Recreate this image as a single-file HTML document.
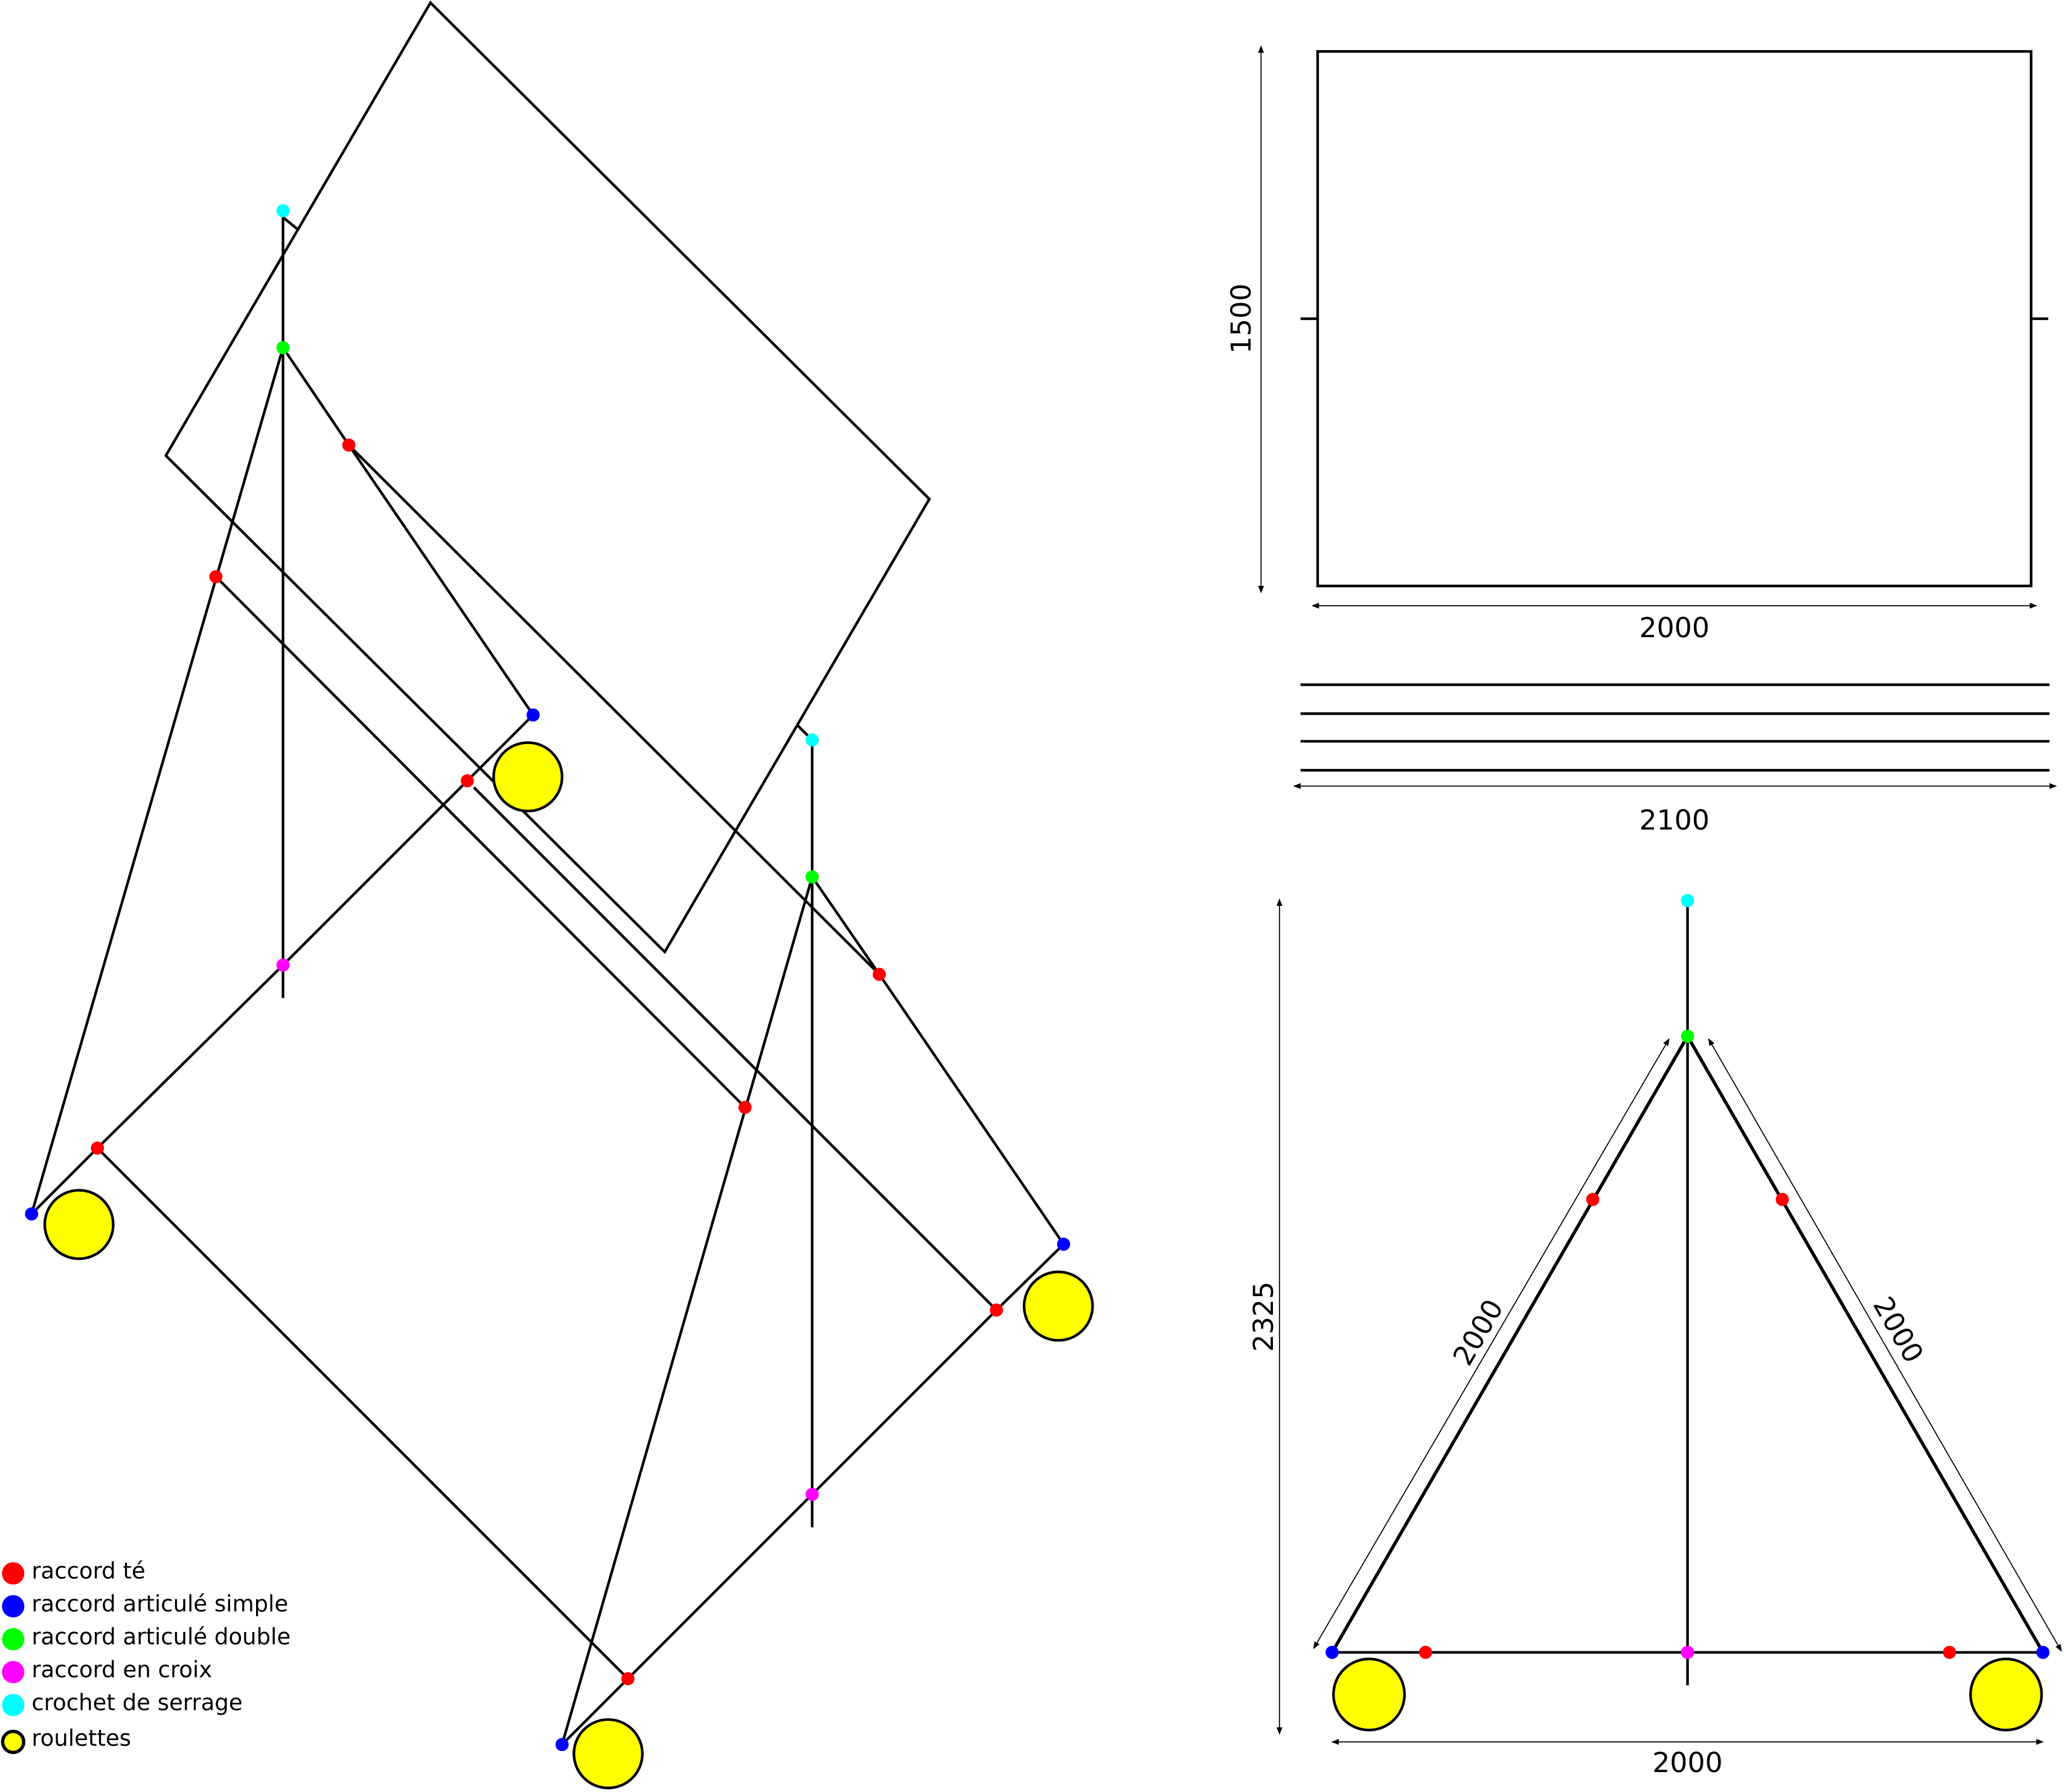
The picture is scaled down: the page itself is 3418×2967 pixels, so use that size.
<!DOCTYPE html>
<html><head><meta charset="utf-8"><style>
html,body{margin:0;padding:0;background:#fff}
svg{display:block}
text{font-family:"DejaVu Sans","Liberation Sans",sans-serif;fill:#000}
</style></head><body>
<svg width="3418" height="2967" viewBox="0 0 1568 1361" xmlns="http://www.w3.org/2000/svg">
<defs>
<marker id="ar" viewBox="0 0 10 10" refX="9" refY="5" markerWidth="7" markerHeight="7" orient="auto-start-reverse"><path d="M0,1 L10,5 L0,9 z" fill="#000"/></marker>
</defs>
<g stroke="#000" stroke-width="2" fill="none">
<polygon points="327,2 706,379 505,723 126,346"/>
<line x1="606" y1="551" x2="615" y2="560"/>
<line x1="215" y1="165" x2="226" y2="174"/>
<line x1="215" y1="160" x2="215" y2="758"/>
<line x1="617" y1="562" x2="617" y2="1160"/>
<line x1="215" y1="264" x2="24" y2="922"/>
<polyline points="215,264 265,338 405,543"/>
<line x1="265" y1="338" x2="668" y2="740"/>
<polyline points="617,666 668,740 808,945"/>
<line x1="617" y1="666" x2="427" y2="1325"/>
<line x1="164" y1="438" x2="566" y2="841"/>
<line x1="360" y1="598" x2="757" y2="995"/>
<polyline points="405,543 355,593 215,733 74,872 24,922"/>
<line x1="74" y1="872" x2="477" y2="1275"/>
<polyline points="427,1325 477,1275 617,1135 757,995 808,945"/>
</g>
<g fill="#ffff00" stroke="#000" stroke-width="2">
<circle cx="401" cy="590" r="26"/><circle cx="60" cy="930" r="26"/><circle cx="804" cy="992" r="26"/><circle cx="462" cy="1332" r="26"/>
</g>
<g>
<circle cx="215" cy="160" r="5" fill="#00ffff"/><circle cx="617" cy="562" r="5" fill="#00ffff"/>
<circle cx="215" cy="264" r="5" fill="#00ff00"/><circle cx="617" cy="666" r="5" fill="#00ff00"/>
<circle cx="215" cy="733" r="5" fill="#ff00ff"/><circle cx="617" cy="1135" r="5" fill="#ff00ff"/>
<circle cx="265" cy="338" r="5" fill="#f00"/><circle cx="164" cy="438" r="5" fill="#f00"/><circle cx="355" cy="593" r="5" fill="#f00"/><circle cx="74" cy="872" r="5" fill="#f00"/><circle cx="668" cy="740" r="5" fill="#f00"/><circle cx="566" cy="841" r="5" fill="#f00"/><circle cx="757" cy="995" r="5" fill="#f00"/><circle cx="477" cy="1275" r="5" fill="#f00"/>
<circle cx="405" cy="543" r="5" fill="#00f"/><circle cx="24" cy="922" r="5" fill="#00f"/><circle cx="808" cy="945" r="5" fill="#00f"/><circle cx="427" cy="1325" r="5" fill="#00f"/>
</g>
<g font-size="17">
<circle cx="10" cy="1195" r="8.5" fill="#f00"/><text x="24" y="1199">raccord té</text>
<circle cx="10" cy="1220" r="8.5" fill="#00f"/><text x="24" y="1224">raccord articulé simple</text>
<circle cx="10" cy="1245" r="8.5" fill="#00ff00"/><text x="24" y="1249">raccord articulé double</text>
<circle cx="10" cy="1270" r="8.5" fill="#ff00ff"/><text x="24" y="1274">raccord en croix</text>
<circle cx="10" cy="1295" r="8.5" fill="#00ffff"/><text x="24" y="1299">crochet de serrage</text>
<circle cx="10" cy="1323" r="8" fill="#ffff00" stroke="#000" stroke-width="2.5"/><text x="24" y="1326">roulettes</text>
</g>
<g stroke="#000" fill="none">
<rect x="1001" y="39" width="542" height="406" stroke-width="2"/>
<line x1="988" y1="242" x2="1001" y2="242" stroke-width="2"/><line x1="1543" y1="242" x2="1556" y2="242" stroke-width="2"/>
<line x1="958" y1="35" x2="958" y2="450" stroke-width="0.8" marker-start="url(#ar)" marker-end="url(#ar)"/>
<line x1="997" y1="460" x2="1547" y2="460" stroke-width="0.8" marker-start="url(#ar)" marker-end="url(#ar)"/>
</g>
<text x="943" y="242" font-size="21" text-anchor="middle" dominant-baseline="central" transform="rotate(-90 943 242)">1500</text>
<text x="1272" y="484" font-size="21" text-anchor="middle">2000</text>
<g stroke="#000" fill="none">
<line x1="988" y1="520" x2="1557" y2="520" stroke-width="2"/><line x1="988" y1="542" x2="1557" y2="542" stroke-width="2"/><line x1="988" y1="563" x2="1557" y2="563" stroke-width="2"/><line x1="988" y1="585" x2="1557" y2="585" stroke-width="2"/>
<line x1="983" y1="597" x2="1562" y2="597" stroke-width="0.8" marker-start="url(#ar)" marker-end="url(#ar)"/>
</g>
<text x="1272" y="630" font-size="21" text-anchor="middle">2100</text>
<g stroke="#000" fill="none">
<line x1="1282" y1="684" x2="1282" y2="1280" stroke-width="2"/>
<polyline points="1012,1255 1282,787 1552,1255" stroke-width="2.5"/>
<line x1="1012" y1="1255" x2="1552" y2="1255" stroke-width="2"/>
<line x1="972" y1="683" x2="972" y2="1317" stroke-width="0.8" marker-start="url(#ar)" marker-end="url(#ar)"/>
<line x1="1012" y1="1323" x2="1552" y2="1323" stroke-width="0.8" marker-start="url(#ar)" marker-end="url(#ar)"/>
<line x1="998" y1="1252" x2="1268" y2="789" stroke-width="0.8" marker-start="url(#ar)" marker-end="url(#ar)"/>
<line x1="1298" y1="789" x2="1566" y2="1254" stroke-width="0.8" marker-start="url(#ar)" marker-end="url(#ar)"/>
</g>
<g fill="#ffff00" stroke="#000" stroke-width="2">
<circle cx="1040" cy="1287" r="27"/><circle cx="1524" cy="1287" r="27"/>
</g>
<g>
<circle cx="1282" cy="684" r="5" fill="#00ffff"/><circle cx="1282" cy="787" r="5" fill="#00ff00"/>
<circle cx="1210" cy="911" r="5" fill="#f00"/><circle cx="1354" cy="911" r="5" fill="#f00"/>
<circle cx="1083" cy="1255" r="5" fill="#f00"/><circle cx="1481" cy="1255" r="5" fill="#f00"/>
<circle cx="1282" cy="1255" r="5" fill="#ff00ff"/>
<circle cx="1012" cy="1255" r="5" fill="#00f"/><circle cx="1552" cy="1255" r="5" fill="#00f"/>
</g>
<text x="960" y="1000" font-size="21" text-anchor="middle" dominant-baseline="central" transform="rotate(-90 960 1000)">2325</text>
<text x="1282" y="1346" font-size="21" text-anchor="middle">2000</text>
<text x="1123" y="1012" font-size="21" text-anchor="middle" dominant-baseline="central" transform="rotate(-60 1123 1012)">2000</text>
<text x="1442" y="1010" font-size="21" text-anchor="middle" dominant-baseline="central" transform="rotate(60 1442 1010)">2000</text>
</svg>
</body></html>
